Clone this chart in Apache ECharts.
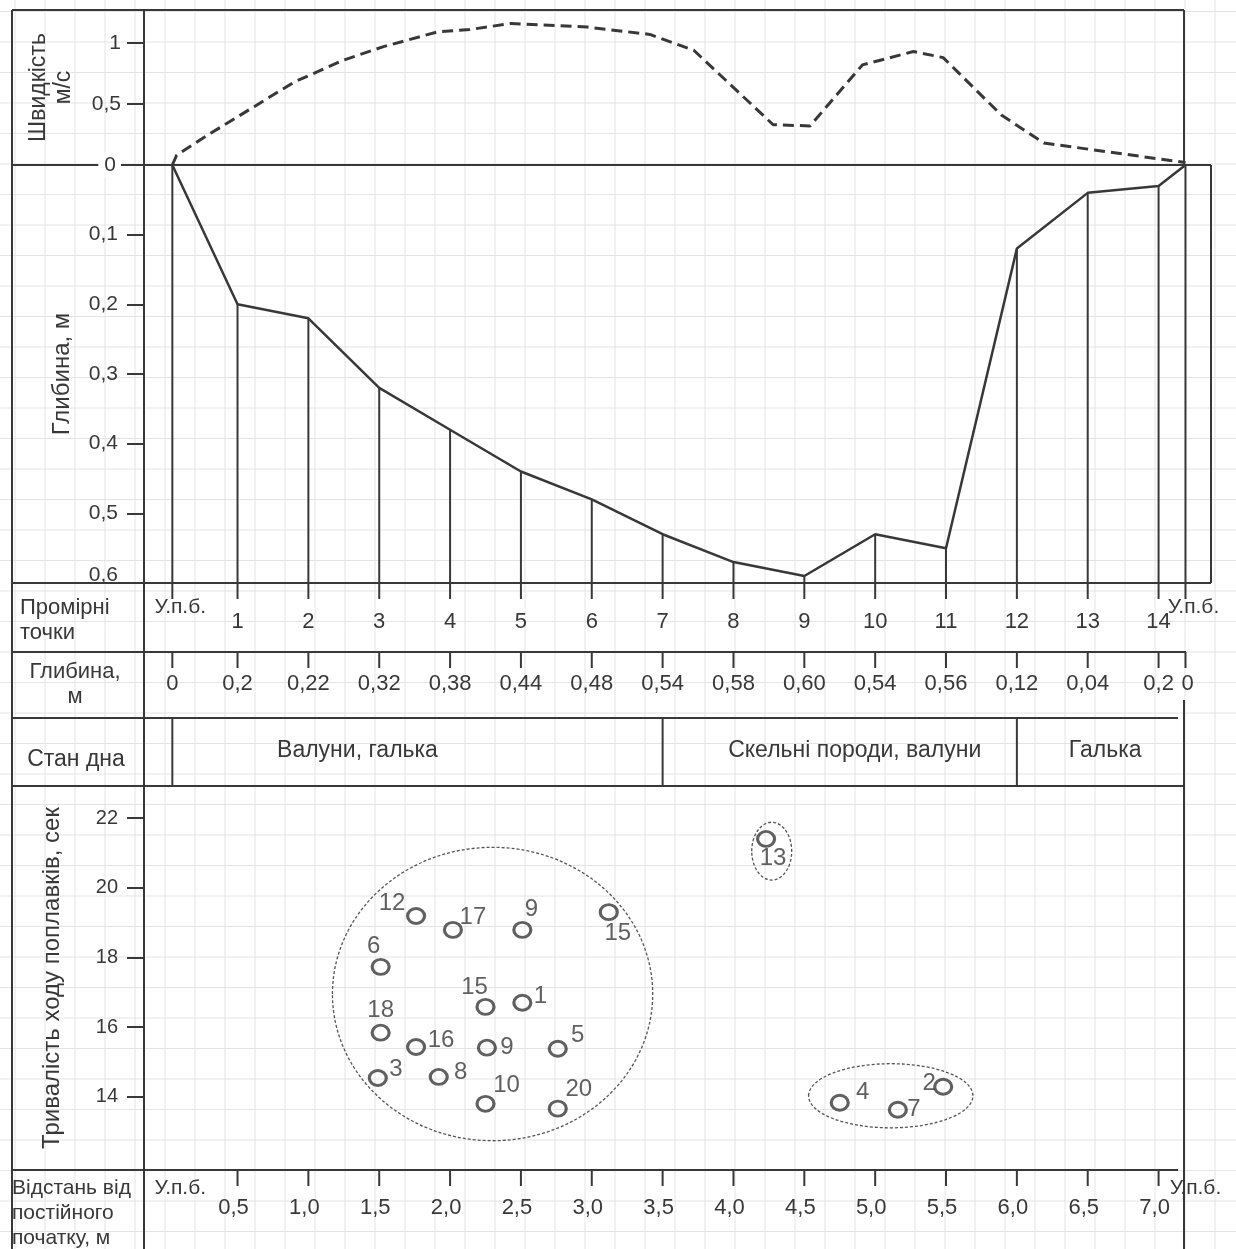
<!DOCTYPE html>
<html><head><meta charset="utf-8">
<script src="https://cdn.jsdelivr.net/npm/echarts@6/dist/echarts.min.js"></script>
<style>html,body{margin:0;padding:0;background:#fff}#c{width:1236px;height:1249px}</style>
</head><body><div id="c"></div>
<script>
// ---------------- DATA ----------------
const pointLabels = ['У.п.б.','1','2','3','4','5','6','7','8','9','10','11','12','13','14','У.п.б.'];
const pointDist   = [0.04,0.5,1.0,1.5,2.0,2.5,3.0,3.5,4.0,4.5,5.0,5.5,6.0,6.5,7.0,7.19];
const depthLabels = ['0','0,2','0,22','0,32','0,38','0,44','0,48','0,54','0,58','0,60','0,54','0,56','0,12','0,04','0,2','0'];
const depthProfile = [0,0.20,0.22,0.32,0.38,0.44,0.48,0.53,0.57,0.59,0.53,0.55,0.12,0.04,0.03,0];

const velDist  = [0.04,0.07,0.31,0.62,0.90,1.25,1.53,1.91,2.14,2.43,2.97,3.41,3.72,4.28,4.54,4.91,5.27,5.48,5.89,6.19,7.19];
const velValue = [0,0.08,0.26,0.48,0.68,0.86,0.97,1.09,1.11,1.16,1.13,1.07,0.94,0.33,0.32,0.82,0.93,0.88,0.41,0.18,0.02];

const bedFrom   = [0.04,3.5,6.0];
const bedTo     = [3.5,6.0,7.19];
const bedLabels = ['Валуни, галька','Скельні породи, валуни','Галька'];

const distTicks      = [0.5,1.0,1.5,2.0,2.5,3.0,3.5,4.0,4.5,5.0,5.5,6.0,6.5,7.0];
const distTickLabels = ['0,5','1,0','1,5','2,0','2,5','3,0','3,5','4,0','4,5','5,0','5,5','6,0','6,5','7,0'];

const velTicks   = [0,0.5,1];
const depthTicks = [0.1,0.2,0.3,0.4,0.5,0.6];
const timeTicks  = [14,16,18,20,22];

const floatNo   = ['12','17','9','15','6','15','1','18','16','9','5','3','8','10','20','13','4','7','2'];
const floatDist = [1.76,2.02,2.51,3.12,1.51,2.25,2.51,1.51,1.76,2.26,2.76,1.49,1.92,2.25,2.76,4.23,4.75,5.16,5.48];
const floatTime = [19.19,18.79,18.79,19.30,17.73,16.58,16.70,15.84,15.43,15.41,15.38,14.54,14.57,13.80,13.66,21.40,13.83,13.63,14.29];

const clusterX  = [2.30,4.27,5.11];
const clusterY  = [16.95,21.05,14.03];
const clusterRx = [1.13,0.141,0.58];
const clusterRy = [4.21,0.83,0.92];

// ---------------- STYLE / LAYOUT ----------------
const INK = '#383838';
const FF = '"Liberation Sans", Arial, sans-serif';
const font = (s) => s + 'px ' + FF;
const floatLabelOffset = [[-24,-13],[20,-13],[9,-21],[9,21],[-7,-20],[-11,-20],[18,-6],[0,-22],[25,-7],[20,0],[20,-13],[18,-9],[22,-5],[21,-18],[21,-19],[7,19],[23,-10],[16,0],[-14,-3]];
const bedLabelShift = [-60,15,4];

const XMIN = -0.16, XMAX = 7.37;
const G = (top, height) => ({left:144, width:1067, top, height});
const grids = [G(10,155), G(165,418), G(583,69), G(652,66), G(718,68), G(786,384), G(1170,79)];
const xAxes = grids.map((g,i)=>({gridIndex:i, type:'value', min:XMIN, max:XMAX, show:false}));
const dec = v => String(v).replace('.', ',');

const tickStyle = {show:true, length:17, lineStyle:{color:INK, width:2}};
const labStyle = (s) => ({color:INK, fontSize:s, fontFamily:FF, margin:26});
const nameStyle = (fs, lh) => ({color:INK, fontSize:fs, fontFamily:FF, lineHeight:lh});

const yAxes = [
  {gridIndex:0, type:'value', min:0, max:1.27, z:10,
   axisLine:{show:false, onZero:false}, splitLine:{show:false},
   axisTick:Object.assign({customValues:velTicks}, tickStyle),
   axisLabel:Object.assign({customValues:velTicks,
     formatter:v => v===0 ? '{w|0}' : dec(v),
     rich:{w:{backgroundColor:'#fff', padding:[2,5,2,6], color:INK, fontSize:21, fontFamily:FF}}}, labStyle(21), {margin:23}),
   name:'Швидкість\nм/с', nameLocation:'middle', nameRotate:90, nameGap:68, nameTextStyle:nameStyle(23, 25)},
  {gridIndex:1, type:'value', min:0, max:0.6, inverse:true,
   axisLine:{show:false, onZero:false}, splitLine:{show:false},
   axisTick:Object.assign({customValues:depthTicks}, tickStyle),
   axisLabel:Object.assign({customValues:depthTicks,
     formatter:v => v===0.6 ? '{u|0,6}' : dec(v),
     rich:{u:{padding:[0,0,16,0], color:INK, fontSize:21, fontFamily:FF}}}, labStyle(21)),
   name:'Глибина, м', nameLocation:'middle', nameRotate:90, nameGap:70, nameTextStyle:nameStyle(24, 24)},
  {gridIndex:2, type:'value', min:0, max:1, show:false},
  {gridIndex:3, type:'value', min:0, max:1, show:false},
  {gridIndex:4, type:'value', min:0, max:1, show:false},
  {gridIndex:5, type:'value', min:11.9, max:22.92,
   axisLine:{show:false, onZero:false}, splitLine:{show:false},
   axisTick:Object.assign({customValues:timeTicks}, tickStyle),
   axisLabel:Object.assign({customValues:timeTicks}, labStyle(20)),
   name:'Тривалість ходу поплавків, сек', nameLocation:'middle', nameRotate:90, nameGap:80, nameTextStyle:nameStyle(24, 24)},
  {gridIndex:6, type:'value', min:0, max:1, show:false}
];

const txt = (text, x, y, size, align) => ({type:'text', x, y,
  style:{text, fill:INK, font:font(size), align:align||'center', verticalAlign:'middle'}});
const vline = (x, y1, y2, w) => ({type:'line', shape:{x1:x, y1, x2:x, y2}, style:{stroke:INK, lineWidth:w||2}});

const series = [
  {type:'line', xAxisIndex:0, yAxisIndex:0, symbol:'none', silent:true,
   data: velDist.map((d,i)=>[d, velValue[i]]),
   lineStyle:{color:INK, width:3, type:[11,6]}},
  {type:'line', xAxisIndex:1, yAxisIndex:1, symbol:'none', silent:true,
   data: pointDist.map((d,i)=>[d, depthProfile[i]]),
   lineStyle:{color:INK, width:2.5}},
  {type:'custom', xAxisIndex:1, yAxisIndex:1, silent:true,
   data: pointDist.map((d,i)=>[d, depthProfile[i]]),
   renderItem:(p, api)=>{
     const a = api.coord([api.value(0), api.value(1)]);
     const b = api.coord([api.value(0), 0.6]);
     return vline(a[0], a[1], b[1], 2);
   }},
  {type:'custom', xAxisIndex:2, yAxisIndex:2, silent:true,
   data: pointDist.map(d=>[d,1]),
   renderItem:(p, api)=>{
     const i = p.dataIndex, c = api.coord([api.value(0), 1]);
     const bank = i===0 || i===pointLabels.length-1;
     return {type:'group', children:[
       vline(c[0], c[1], c[1]+16, 2),
       bank ? txt(pointLabels[i], c[0]+8, c[1]+24, 21) : txt(pointLabels[i], c[0], c[1]+39, 22)
     ]};
   }},
  {type:'custom', xAxisIndex:3, yAxisIndex:3, silent:true,
   data: pointDist.map(d=>[d,1]),
   renderItem:(p, api)=>{
     const i = p.dataIndex, c = api.coord([api.value(0), 1]);
     return {type:'group', children:[
       vline(c[0], c[1], c[1]+16, 2),
       txt(depthLabels[i], c[0]+(i===pointLabels.length-1?2:0), c[1]+32, 22)
     ]};
   }},
  {type:'custom', xAxisIndex:4, yAxisIndex:4, silent:true,
   data: bedFrom.map((f,i)=>[f, bedTo[i]]),
   renderItem:(p, api)=>{
     const i = p.dataIndex;
     const a = api.coord([api.value(0), 1]), b = api.coord([api.value(1), 0]);
     return {type:'group', children:[
       vline(a[0], a[1], b[1], 2),
       txt(bedLabels[i], (a[0]+b[0])/2 + bedLabelShift[i], a[1]+33, 23)
     ]};
   }},
  {type:'scatter', xAxisIndex:5, yAxisIndex:5, silent:true,
   symbol:'circle', symbolSize:[17,15],
   itemStyle:{color:'rgba(255,255,255,0)', borderColor:INK, borderWidth:3},
   data: floatDist.map((d,i)=>({value:[d, floatTime[i]],
     label:{show:true, position:'inside', offset:floatLabelOffset[i], formatter:floatNo[i],
       color:INK, fontSize:24, fontFamily:FF}}))},
  {type:'custom', xAxisIndex:5, yAxisIndex:5, silent:true, z:1,
   data: clusterX.map((x,i)=>[x, clusterY[i], clusterRx[i], clusterRy[i]]),
   renderItem:(p, api)=>{
     const c = api.coord([api.value(0), api.value(1)]);
     const s = api.size([api.value(2), api.value(3)]);
     return {type:'ellipse', shape:{cx:c[0], cy:c[1], rx:s[0], ry:s[1]},
       style:{fill:null, stroke:'#555', lineWidth:1.3, lineDash:[3,2]}};
   }},
  {type:'custom', xAxisIndex:6, yAxisIndex:6, silent:true,
   data: distTicks.map(d=>[d,1]),
   renderItem:(p, api)=>{
     const c = api.coord([api.value(0), 1]);
     return {type:'group', children:[
       vline(c[0], c[1], c[1]+16, 2),
       txt(distTickLabels[p.dataIndex], c[0]-4, c[1]+38, 22)
     ]};
   }},
  {type:'custom', xAxisIndex:6, yAxisIndex:6, silent:true,
   data: [[pointDist[0],1],[pointDist[pointDist.length-1],1]],
   renderItem:(p, api)=>{
     const c = api.coord([api.value(0), 1]);
     return txt(pointLabels[0], c[0]+(p.dataIndex===0?8:10), c[1]+18, 21);
   }}
];

// ---------------- frame & paper ----------------
const graphics = [];
const PAPER = '#e4e4e4';
for (let x = 15; x < 1236; x += 30)
  graphics.push({type:'line', z:0, silent:true, shape:{x1:x,y1:0,x2:x,y2:1249}, style:{stroke:PAPER, lineWidth:1}});
for (let y = 11.5; y < 1249; y += 30.5)
  graphics.push({type:'line', z:0, silent:true, shape:{x1:0,y1:y,x2:1236,y2:y}, style:{stroke:PAPER, lineWidth:1}});
const FH = (y, x1, x2) => ({type:'line', z:1, silent:true, shape:{x1, y1:y, x2, y2:y}, style:{stroke:INK, lineWidth:2}});
const FV = (x, y1, y2) => ({type:'line', z:1, silent:true, shape:{x1:x, y1, x2:x, y2}, style:{stroke:INK, lineWidth:2}});
graphics.push(
  FH(10,12,1184), FV(12,10,1249), FV(144,10,1249),
  FH(165,12,1211), FV(1184,10,165), FV(1211,165,583),
  FH(583,12,1211), FH(652,12,1186), FH(718,12,1178), FH(786,12,1184), FH(1170,12,1178),
  FV(1184,700,1249)
);
const GT = (text, x, y, size, align) => ({type:'text', z:2, silent:true, x, y,
  style:{text, fill:INK, font:font(size), align, verticalAlign:'middle', lineHeight:25}});
graphics.push(
  GT('Промірні\nточки', 20, 620, 22, 'left'),
  GT('Глибина,\nм', 75, 684, 22, 'center'),
  GT('Стан дна', 76, 760, 23, 'center'),
  GT('Відстань від\nпостійного\nпочатку, м', 12, 1213, 21, 'left')
);

const chart = echarts.init(document.getElementById('c'), null, {renderer:'canvas'});
chart.setOption({
  animation:false, backgroundColor:'#fff',
  grid:grids, xAxis:xAxes, yAxis:yAxes, series, graphic:graphics
});
</script></body></html>
